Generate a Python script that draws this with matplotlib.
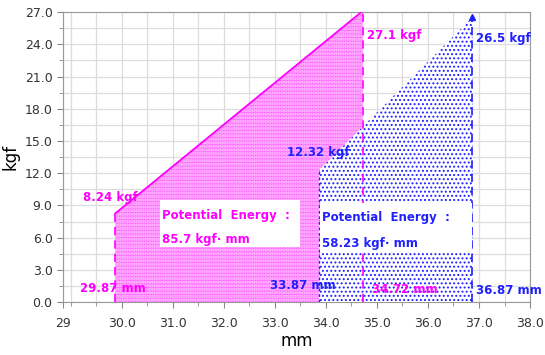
import matplotlib
matplotlib.use('Agg')
import matplotlib.pyplot as plt
from matplotlib.ticker import MultipleLocator

# spring A (magenta) and spring B (blue): stroke start/end in mm, force in kgf
a_x = [29.87, 34.72]
a_f = [8.24, 27.1]
a_energy = '85.7'
b_x = [33.87, 36.87]
b_f = [12.32, 26.5]
b_energy = '58.23'

x_ticks = [28.85, 30, 31, 32, 33, 34, 35, 36, 37, 38]
x_labels = ['29', '30.0', '31.0', '32.0', '33.0', '34.0', '35.0', '36.0', '37.0', '38.0']
y_ticks = [0, 3, 6, 9, 12, 15, 18, 21, 24, 27]

mag = '#ff00ff'
blu = '#2020ff'

fig = plt.figure(figsize=(5.45, 3.55), dpi=100)
ax = fig.add_axes([0.1156, 0.149, 0.857, 0.817])

# magenta area
plt.rcParams['hatch.linewidth'] = 0.6
ax.fill_between(a_x, [0, 0], a_f, facecolor='white', edgecolor=mag, hatch='.' * 12, linewidth=0, zorder=2)
ax.plot(a_x, a_f, color=mag, lw=1.3, zorder=3)
ax.plot([a_x[0], a_x[0]], [0, a_f[0]], color=mag, lw=1.2, ls=(0, (5, 3)), zorder=3)
ax.plot([a_x[1], a_x[1]], [0, a_f[1]], color=mag, lw=1.2, ls=(0, (5, 3)), zorder=5)

# blue area on top
plt.rcParams['hatch.linewidth'] = 0.9
ax.fill_between(b_x, [0, 0], b_f, facecolor='white', edgecolor=blu, hatch='....', linewidth=0, zorder=4)
ax.plot([b_x[0], b_x[0]], [0, b_f[0]], color=blu, lw=1.0, ls=(0, (2, 2)), zorder=5)
ax.plot([b_x[1], b_x[1]], [0, b_f[1]], color=blu, lw=1.2, ls=(0, (5, 3)), zorder=5)
ax.plot([b_x[1]], [b_f[1]], marker='^', color=blu, ms=4, zorder=6)

# energy boxes
ax.fill_between([30.75, 33.49], 5.14, 9.53, facecolor='white', edgecolor='none', zorder=6)
ax.fill_between([33.88, 36.86], 4.67, 9.25, facecolor='white', edgecolor='none', zorder=6)
tk = dict(fontsize=8.5, fontweight='bold', va='center', ha='left', zorder=7)
ax.text(30.79, 8.1, 'Potential  Energy  :', color=mag, **tk)
ax.text(30.79, 5.8, a_energy + ' kgf· mm', color=mag, **tk)
ax.text(33.92, 7.9, 'Potential  Energy  :', color=blu, **tk)
ax.text(33.92, 5.5, b_energy + ' kgf· mm', color=blu, **tk)

# value labels
ax.text(29.24, 9.7, '%.2f kgf' % a_f[0], color=mag, **tk)
ax.text(34.80, 24.8, '%.1f kgf' % a_f[1], color=mag, **tk)
ax.text(33.24, 13.9, '%.2f kgf' % b_f[0], color=blu, **tk)
ax.text(36.94, 24.5, '%.1f kgf' % b_f[1], color=blu, **tk)
ax.text(29.18, 1.3, '%.2f mm' % a_x[0], color=mag, **tk)
ax.text(32.90, 1.5, '%.2f mm' % b_x[0], color=blu, **tk)
ax.text(34.90, 1.2, '%.2f mm' % a_x[1], color=mag, **tk)
ax.text(36.94, 1.1, '%.2f mm' % b_x[1], color=blu, **tk)

ax.set_xlim(28.85, 38)
ax.set_ylim(0, 27)
ax.set_xticks(x_ticks)
ax.set_xticklabels(x_labels)
ax.set_yticks(y_ticks)
ax.set_yticklabels(['%.1f' % v for v in y_ticks])
ax.xaxis.set_minor_locator(MultipleLocator(0.5))
ax.yaxis.set_minor_locator(MultipleLocator(1.5))
ax.grid(True, which='both', color='#dddddd', lw=0.9, zorder=0)
ax.set_axisbelow(True)
ax.tick_params(which='both', direction='out', colors='#888888', labelcolor='#333333', labelsize=9)
ax.tick_params(which='major', length=4)
ax.tick_params(which='minor', length=3)
ax.tick_params(axis='x', pad=7)
for s in ax.spines.values():
    s.set_color('#999999')

ax.set_xlabel('mm', fontsize=12, labelpad=1)
ax.set_ylabel('kgf', fontsize=12, labelpad=4)

fig.savefig('out.png', dpi=100)
